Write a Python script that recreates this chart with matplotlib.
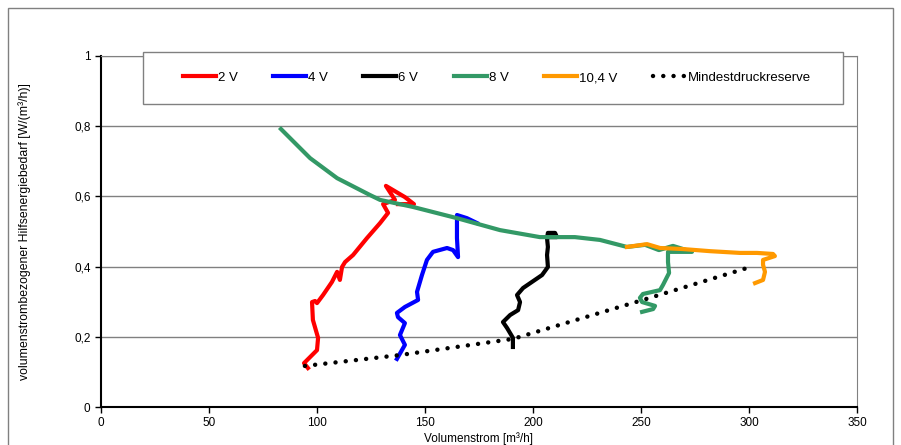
import matplotlib.pyplot as plt
from matplotlib.patches import Rectangle
from matplotlib.ticker import FuncFormatter

plt.rcParams['font.family'] = ['Liberation Sans', 'DejaVu Sans']

# Kennlinien je Spannung (Volumenstrom, volumenstrombezogener Hilfsenergiebedarf)
x_2v = [95.8, 94.0, 100.0, 100.5, 98.1, 97.7, 99.1, 100.0, 102.8, 106.9, 109.3, 110.6,
        111.6, 113.0, 116.7, 123.1, 129.2, 132.9, 130.6, 136.1, 131.9, 140.7, 144.9, 137.5]
y_2v = [0.111, 0.125, 0.162, 0.197, 0.248, 0.299, 0.302, 0.296, 0.319, 0.356, 0.385, 0.362,
        0.399, 0.413, 0.433, 0.481, 0.524, 0.553, 0.578, 0.590, 0.630, 0.598, 0.578, 0.578]

x_4v = [137.0, 140.7, 138.4, 140.7, 137.5, 137.0, 140.7, 146.8, 146.3, 148.6, 150.9, 153.7,
        160.2, 163.0, 165.3, 164.8, 164.8, 169.4, 174.1]
y_4v = [0.137, 0.177, 0.205, 0.239, 0.256, 0.268, 0.285, 0.305, 0.328, 0.376, 0.419, 0.442,
        0.453, 0.447, 0.427, 0.481, 0.547, 0.538, 0.524]

x_6v = [190.7, 190.7, 188.0, 186.1, 189.4, 193.1, 194.0, 192.6, 195.4, 204.2, 206.9, 206.5,
        206.9, 206.5, 206.9, 210.2, 211.1, 207.9]
y_6v = [0.171, 0.197, 0.225, 0.242, 0.262, 0.276, 0.299, 0.319, 0.339, 0.376, 0.399, 0.433,
        0.456, 0.481, 0.496, 0.496, 0.484, 0.484]

x_8v = [83.3, 96.8, 109.3, 124.5, 129.2, 144.4, 164.8, 184.7, 203.2, 219.4, 231.0, 243.5,
        251.9, 258.3, 264.8, 273.6, 262.5, 262.5, 263.0, 260.2, 258.8, 250.9, 249.5, 250.5,
        256.5, 255.6, 250.5]
y_8v = [0.792, 0.709, 0.652, 0.604, 0.590, 0.570, 0.538, 0.504, 0.484, 0.484, 0.476, 0.456,
        0.462, 0.447, 0.459, 0.442, 0.442, 0.413, 0.382, 0.348, 0.333, 0.322, 0.311, 0.299,
        0.288, 0.279, 0.271]

x_104v = [243.5, 252.8, 258.8, 269.4, 281.9, 295.8, 303.7, 311.1, 312.0, 306.5, 306.5, 307.4,
          306.5, 302.8]
y_104v = [0.456, 0.464, 0.453, 0.450, 0.444, 0.439, 0.439, 0.436, 0.430, 0.419, 0.405, 0.385,
          0.362, 0.353]

# Mindestdruckreserve
x_mdr = [94.4, 138.4, 190.7, 250.9, 302.3]
y_mdr = [0.117, 0.148, 0.194, 0.305, 0.402]

fig = plt.figure(figsize=(9.01, 4.45), dpi=100)
ax = fig.add_axes([101 / 901, 1 - 407 / 445, 756 / 901, 351 / 445])

# Rahmen um das Diagramm
fig.patches.append(Rectangle((8 / 901, -0.05), 885 / 901, 1 - 8 / 445 + 0.05,
                             transform=fig.transFigure, fill=False,
                             edgecolor='#808080', linewidth=1))

ax.plot(x_2v, y_2v, color='#FF0000', linewidth=3, label='2 V', zorder=3)
ax.plot(x_4v, y_4v, color='#0000FF', linewidth=3, label='4 V', zorder=3)
ax.plot(x_6v, y_6v, color='black', linewidth=3, label='6 V', zorder=3)
ax.plot(x_8v, y_8v, color='#339966', linewidth=3, label='8 V', zorder=4)
ax.plot(x_104v, y_104v, color='#FF9900', linewidth=3, label='10,4 V', zorder=5)
ax.plot(x_mdr, y_mdr, color='black', linewidth=3.2, linestyle=(0, (0.01, 2.3)),
        dash_capstyle='round', label='Mindestdruckreserve', zorder=6)

ax.set_xlim(0, 350)
ax.set_ylim(0, 1)
ax.set_xticks(range(0, 351, 50))
ax.set_yticks([0, 0.2, 0.4, 0.6, 0.8, 1])
ax.yaxis.set_major_formatter(FuncFormatter(lambda v, p: f'{v:g}'.replace('.', ',')))
ax.tick_params(direction='out', length=4, width=1, labelsize=8.5, colors='black')
ax.grid(axis='y', color='#808080', linewidth=1)
ax.set_axisbelow(True)

for s in ['top', 'right']:
    ax.spines[s].set_color('#808080')
for s in ['left', 'bottom']:
    ax.spines[s].set_linewidth(1.5)

ax.set_xlabel('Volumenstrom [m³/h]', fontsize=8.5, labelpad=2)
ax.set_ylabel('volumenstrombezogener Hilfsenergiebedarf [W/(m³/h)]', fontsize=8.8, labelpad=31)

# Legendenkasten
fig.patches.append(Rectangle((143 / 901, 1 - 104 / 445), 700 / 901, 52 / 445,
                             transform=fig.transFigure, facecolor='white',
                             edgecolor='#808080', linewidth=1, zorder=10))
leg = fig.legend(loc='center', bbox_to_anchor=((147 + 350) / 901, 1 - 78 / 445),
                 ncol=6, frameon=False, fontsize=9.5, handlelength=2.5,
                 handletextpad=0.15, columnspacing=2.7)
leg.set_zorder(11)

plt.savefig('out.png', dpi=100)
